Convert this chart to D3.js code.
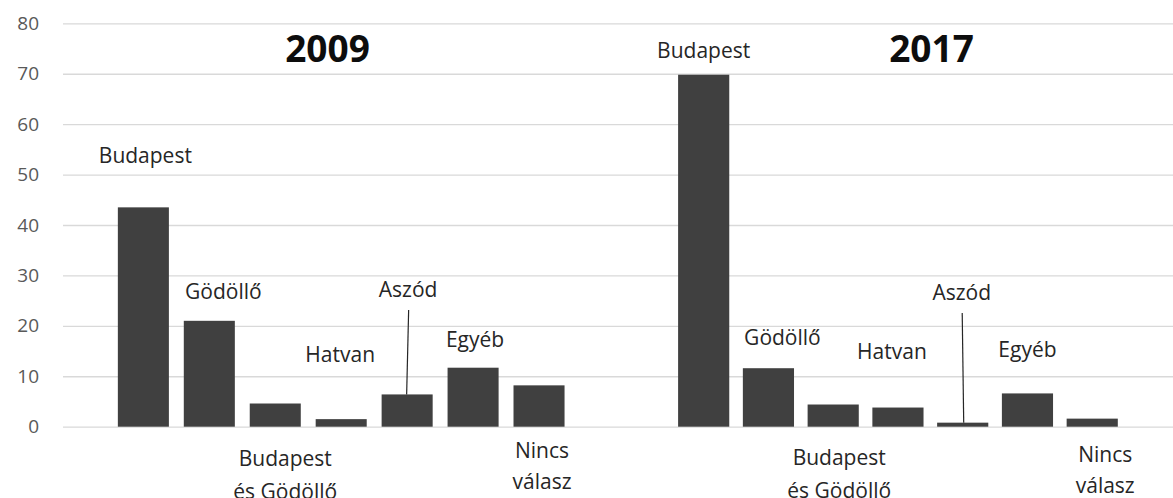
<!DOCTYPE html>
<html><head><meta charset="utf-8">
<script src="https://cdn.jsdelivr.net/npm/d3@7"></script>
<style>body{margin:0;background:#fff}svg{display:block}text{font-family:"Open Sans",sans-serif}</style>
</head><body><svg id="c" width="1173" height="498"></svg>
<script>
const categories = ["Budapest","Gödöllő","Budapest és Gödöllő","Hatvan","Aszód","Egyéb","Nincs válasz"];
const years = ["2009","2017"];
const values2009 = [43.5, 21.0, 4.6, 1.5, 6.4, 11.7, 8.2];
const values2017 = [69.8, 11.6, 4.4, 3.8, 0.8, 6.6, 1.6];
const yTicks = [0,10,20,30,40,50,60,70,80];
// label layout (annotation placement): [dx from bar centre, baseline px]
const labelLayout2009 = [[2,163],[14,299],[10,466],[-1,362],[1,297],[2,347],[3,458]];
const labelLayout2017 = [[0,58],[14,345],[6,465],[-6,359],[-1,300],[0,357],[13,462]];

const svg = d3.select("#c");
const y = d3.scaleLinear().domain([0,80]).range([426.7,23.3]);
const xGroups = [
  d3.scaleBand().domain(categories).range([110.4,572]).paddingInner(0.226).paddingOuter(0.113),
  d3.scaleBand().domain(categories).range([671.3,1124.6]).paddingInner(0.21).paddingOuter(0.105)
];

// gridlines + y ticks
const yAxis = d3.axisLeft(y).tickValues(yTicks).tickSize(-(1173-63)).tickPadding(22);
const ga = svg.append("g").attr("transform","translate(63,0)").call(yAxis);
ga.select(".domain").remove();
ga.selectAll(".tick line").attr("stroke","#d9d9d9").attr("stroke-width",1.3);
ga.selectAll(".tick text").attr("fill","#595959").style("font-size","19px").attr("x",-24);

const series = [values2009, values2017];
const layouts = [labelLayout2009, labelLayout2017];
series.forEach((vals, gi) => {
  const x = xGroups[gi];
  const g = svg.append("g");
  g.selectAll("rect").data(vals).join("rect")
    .attr("x",(d,i)=>x(categories[i]))
    .attr("width",x.bandwidth())
    .attr("y",d=>y(d))
    .attr("height",d=>y(0)-y(d))
    .attr("fill","#404040");
  svg.append("text").text(years[gi])
    .attr("x", gi===0 ? 327.5 : 931.5).attr("y",61.5)
    .attr("text-anchor","middle").attr("font-weight","bold")
    .style("font-size","37px").attr("fill","#0d0d0d");
  categories.forEach((c,i)=>{
    const [dx, by] = layouts[gi][i];
    const cx = x(c) + x.bandwidth()/2 + dx;
    let lines = [c], lh = 33;
    if (c === "Budapest és Gödöllő") lines = ["Budapest","és Gödöllő"];
    if (c === "Nincs válasz") { lines = ["Nincs","válasz"]; lh = 31; }
    const t = svg.append("text").attr("text-anchor","middle").attr("fill","#262626").style("font-size","21px");
    lines.forEach((l,k)=>t.append("tspan").attr("x",cx).attr("y",by + k*lh).text(l));
    if (c === "Aszód") {
      svg.append("line")
        .attr("x1",cx+0.5).attr("y1",by+13)
        .attr("x2",x(c)+x.bandwidth()/2 + (gi===0?-0.5:1)).attr("y2",y(vals[i]))
        .attr("stroke","#262626").attr("stroke-width",1.2);
    }
  });
});
</script></body></html>
